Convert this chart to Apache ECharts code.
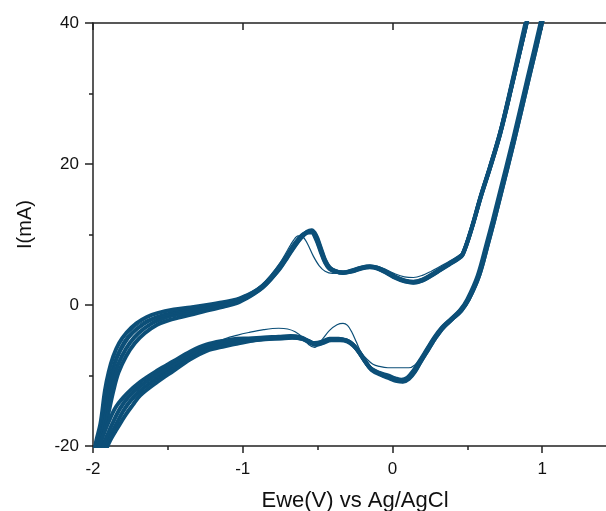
<!DOCTYPE html>
<html>
<head>
<meta charset="utf-8">
<script src="https://cdn.jsdelivr.net/npm/echarts@6/dist/echarts.min.js"></script>
<style>html,body{margin:0;padding:0;background:#fff;overflow:hidden}#c{width:606px;height:511px}</style>
</head>
<body>
<div id="c"></div>
<script>
// Tick labels
var xTicks = [-2, -1, 0, 1];
var yTicks = [-20, 0, 20, 40];

// Cycle A (bundle, upper/left edge)
var cycleA = [
[-2.00,-24],[-1.985,-20],[-1.95,-16.8],[-1.92,-12.1],[-1.895,-9.5],[-1.865,-7.3],[-1.825,-5.4],[-1.775,-3.9],[-1.71,-2.6],[-1.64,-1.7],[-1.57,-1.15],[-1.46,-0.65],[-1.35,-0.35],[-1.24,0.0],[-1.13,0.4],[-1.04,0.8],[-0.98,1.3],[-0.93,1.8],[-0.87,2.7],[-0.81,4.0],[-0.75,5.6],[-0.70,7.2],[-0.65,8.8],[-0.61,9.8],[-0.57,10.3],[-0.54,10.3],[-0.51,9.3],[-0.48,7.6],[-0.45,6.0],[-0.42,5.1],[-0.38,4.7],[-0.33,4.6],[-0.27,4.9],[-0.21,5.3],[-0.15,5.5],[-0.10,5.3],[-0.04,4.7],[0.02,4.0],[0.08,3.5],[0.14,3.3],[0.20,3.6],[0.26,4.3],[0.32,5.1],[0.38,5.9],[0.44,6.7],[0.47,7.3],[0.53,11.0],[0.59,15.5],[0.65,19.5],[0.72,24.5],[0.80,31.5],[0.90,40.5],[1.10,58],
[1.20,60],[1.00,41],[0.90,32],[0.80,23],[0.72,16.2],[0.67,12],[0.63,8.8],[0.57,4.2],[0.50,0.8],[0.45,-0.8],[0.39,-2.0],[0.33,-3.2],[0.28,-4.6],[0.23,-6.3],[0.18,-8.0],[0.14,-9.3],[0.10,-10.3],[0.06,-10.6],[0.02,-10.4],[-0.03,-10.0],[-0.09,-9.6],[-0.15,-8.9],[-0.19,-7.8],[-0.23,-6.5],[-0.27,-5.5],[-0.31,-5.0],[-0.36,-4.8],[-0.42,-4.8],[-0.47,-5.2],[-0.52,-5.4],[-0.56,-5.1],[-0.61,-4.6],[-0.68,-4.4],[-0.76,-4.5],[-0.86,-4.6],[-0.96,-4.75],[-1.04,-4.8],[-1.12,-5.05],[-1.24,-5.6],[-1.35,-6.6],[-1.46,-7.95],[-1.57,-9.3],[-1.684,-10.9],[-1.77,-12.5],[-1.845,-14.4],[-1.90,-16.8],[-1.935,-18.7],[-1.955,-20],[-2.00,-24]
];

// Cycle C (bundle, 1/3 across)
var cycleC = [
[-2.00,-25],[-1.977,-20],[-1.938,-16.8],[-1.901,-12.1],[-1.873,-9.55],[-1.837,-7.3],[-1.79,-5.4],[-1.735,-3.93],[-1.664,-2.7],[-1.593,-1.9],[-1.52,-1.4],[-1.43,-0.95],[-1.35,-0.7],[-1.24,-0.27],[-1.13,0.18],[-1.04,0.62],[-0.98,1.2],[-0.93,1.75],[-0.87,2.6],[-0.81,3.9],[-0.75,5.45],[-0.70,7.05],[-0.65,8.65],[-0.61,9.7],[-0.57,10.3],[-0.54,10.4],[-0.51,9.5],[-0.48,7.8],[-0.45,6.15],[-0.42,5.2],[-0.38,4.75],[-0.33,4.6],[-0.27,4.85],[-0.21,5.25],[-0.15,5.45],[-0.10,5.25],[-0.04,4.65],[0.02,3.95],[0.08,3.45],[0.14,3.25],[0.20,3.55],[0.26,4.25],[0.32,5.05],[0.38,5.85],[0.44,6.65],[0.47,7.25],[0.53,10.95],[0.59,15.4],[0.65,19.4],[0.72,24.4],[0.80,31.4],[0.90,40.4],[1.10,58],
[1.205,60],[1.005,41],[0.905,32],[0.805,23],[0.725,16.2],[0.675,12],[0.635,8.8],[0.575,4.2],[0.505,0.8],[0.455,-0.8],[0.395,-2.0],[0.335,-3.2],[0.285,-4.6],[0.235,-6.3],[0.185,-8.0],[0.145,-9.35],[0.105,-10.35],[0.065,-10.7],[0.025,-10.55],[-0.025,-10.15],[-0.085,-9.7],[-0.145,-9.0],[-0.185,-7.9],[-0.225,-6.6],[-0.265,-5.6],[-0.305,-5.05],[-0.355,-4.85],[-0.415,-4.85],[-0.465,-5.25],[-0.515,-5.5],[-0.555,-5.2],[-0.605,-4.7],[-0.675,-4.5],[-0.755,-4.6],[-0.855,-4.7],[-0.955,-4.9],[-1.04,-5.0],[-1.12,-5.3],[-1.24,-5.9],[-1.35,-7.0],[-1.46,-8.4],[-1.57,-9.8],[-1.684,-11.5],[-1.765,-13.1],[-1.82,-14.7],[-1.87,-16.8],[-1.905,-18.5],[-1.94,-20.2],[-2.00,-24]
];

// Cycle D (bundle, 2/3 across)
var cycleD = [
[-2.00,-26],[-1.968,-20],[-1.925,-16.8],[-1.882,-12.1],[-1.852,-9.57],[-1.808,-7.3],[-1.755,-5.4],[-1.695,-3.97],[-1.618,-2.75],[-1.55,-2.05],[-1.47,-1.5],[-1.35,-1.05],[-1.24,-0.53],[-1.13,0.0],[-1.04,0.45],[-0.98,1.05],[-0.93,1.6],[-0.87,2.5],[-0.81,3.75],[-0.75,5.3],[-0.70,6.9],[-0.65,8.5],[-0.61,9.6],[-0.57,10.4],[-0.54,10.6],[-0.51,9.9],[-0.48,8.2],[-0.45,6.4],[-0.42,5.35],[-0.38,4.8],[-0.33,4.55],[-0.27,4.75],[-0.21,5.15],[-0.15,5.35],[-0.10,5.15],[-0.04,4.55],[0.02,3.85],[0.08,3.35],[0.14,3.15],[0.20,3.45],[0.26,4.15],[0.32,4.95],[0.38,5.75],[0.44,6.55],[0.47,7.15],[0.53,10.85],[0.59,15.3],[0.65,19.3],[0.72,24.3],[0.80,31.3],[0.90,40.3],[1.10,58],
[1.21,60],[1.01,41],[0.91,32],[0.81,23],[0.73,16.2],[0.68,12],[0.64,8.8],[0.58,4.2],[0.51,0.8],[0.46,-0.8],[0.40,-2.0],[0.34,-3.2],[0.29,-4.6],[0.24,-6.3],[0.19,-8.0],[0.15,-9.5],[0.11,-10.5],[0.07,-10.9],[0.03,-10.8],[-0.02,-10.4],[-0.08,-9.9],[-0.14,-9.2],[-0.18,-8.1],[-0.22,-6.8],[-0.26,-5.8],[-0.30,-5.2],[-0.35,-5.0],[-0.41,-5.0],[-0.46,-5.35],[-0.51,-5.65],[-0.55,-5.35],[-0.60,-4.85],[-0.67,-4.65],[-0.75,-4.75],[-0.85,-4.85],[-0.95,-5.05],[-1.04,-5.25],[-1.12,-5.6],[-1.24,-6.2],[-1.35,-7.35],[-1.46,-8.85],[-1.57,-10.35],[-1.684,-12.15],[-1.75,-13.6],[-1.80,-15.1],[-1.84,-16.7],[-1.875,-18.1],[-1.91,-19.7],[-1.925,-20.5],[-2.00,-25]
];

// Cycle B (bundle, lower/right edge)
var cycleB = [
[-2.00,-27],[-1.96,-20],[-1.913,-16.8],[-1.863,-12.1],[-1.83,-9.6],[-1.78,-7.3],[-1.72,-5.4],[-1.655,-4.0],[-1.572,-2.8],[-1.50,-2.2],[-1.42,-1.75],[-1.35,-1.4],[-1.24,-0.8],[-1.13,-0.25],[-1.04,0.25],[-0.98,0.9],[-0.93,1.5],[-0.87,2.4],[-0.81,3.7],[-0.75,5.2],[-0.70,6.8],[-0.65,8.4],[-0.61,9.5],[-0.57,10.3],[-0.54,10.5],[-0.51,9.7],[-0.48,8.0],[-0.45,6.3],[-0.42,5.3],[-0.38,4.8],[-0.33,4.6],[-0.27,4.8],[-0.21,5.2],[-0.15,5.4],[-0.10,5.2],[-0.04,4.6],[0.02,3.9],[0.08,3.4],[0.14,3.2],[0.20,3.5],[0.26,4.2],[0.32,5.0],[0.38,5.8],[0.44,6.6],[0.47,7.2],[0.53,10.9],[0.59,15.3],[0.65,19.3],[0.72,24.3],[0.80,31.3],[0.90,40.3],[1.10,58],
[1.21,60],[1.01,41],[0.91,32],[0.81,23],[0.73,16.2],[0.68,12],[0.64,8.8],[0.58,4.2],[0.51,0.8],[0.46,-0.8],[0.40,-2.0],[0.34,-3.2],[0.29,-4.6],[0.24,-6.3],[0.19,-8.0],[0.15,-9.4],[0.11,-10.4],[0.07,-10.8],[0.03,-10.7],[-0.02,-10.3],[-0.08,-9.8],[-0.14,-9.1],[-0.18,-8.0],[-0.22,-6.7],[-0.26,-5.7],[-0.30,-5.1],[-0.35,-4.9],[-0.41,-4.9],[-0.46,-5.3],[-0.51,-5.6],[-0.55,-5.3],[-0.60,-4.8],[-0.67,-4.6],[-0.75,-4.7],[-0.85,-4.8],[-0.95,-5.1],[-1.04,-5.5],[-1.12,-5.85],[-1.24,-6.5],[-1.35,-7.7],[-1.46,-9.3],[-1.57,-10.9],[-1.684,-12.8],[-1.735,-14.2],[-1.78,-15.5],[-1.815,-16.7],[-1.85,-17.9],[-1.885,-19.2],[-1.915,-20.6],[-2.00,-25]
];

// Cycle 1 (first cycle, thin line)
var cycleT = [
[-2.00,-25],[-1.975,-20],[-1.935,-16.0],[-1.905,-12.1],[-1.86,-8.0],[-1.82,-6.0],[-1.77,-4.3],[-1.71,-3.0],[-1.64,-2.1],[-1.57,-1.6],[-1.47,-1.1],[-1.38,-0.7],[-1.29,-0.35],[-1.20,0.0],[-1.10,0.5],[-1.04,0.9],[-0.98,1.4],[-0.93,2.0],[-0.87,2.9],[-0.81,4.3],[-0.75,6.0],[-0.70,7.8],[-0.66,9.2],[-0.63,9.8],[-0.60,9.7],[-0.57,8.8],[-0.53,7.0],[-0.49,5.6],[-0.45,4.8],[-0.40,4.5],[-0.33,4.6],[-0.27,5.0],[-0.21,5.4],[-0.15,5.6],[-0.10,5.5],[-0.04,5.0],[0.02,4.4],[0.08,4.0],[0.14,3.9],[0.20,4.2],[0.26,4.8],[0.32,5.5],[0.38,6.2],[0.44,7.0],[0.47,7.5],[0.53,11.4],[0.59,16.0],[0.65,20.1],[0.72,25.3],[0.80,32.6],[0.89,41],[1.10,59],
[1.20,61],[1.00,41.2],[0.90,32.2],[0.80,23.2],[0.72,16.4],[0.67,12.2],[0.63,9.0],[0.57,4.4],[0.50,1.0],[0.45,-0.6],[0.39,-1.8],[0.33,-3.0],[0.28,-4.4],[0.23,-6.0],[0.19,-7.5],[0.15,-8.5],[0.11,-8.9],[0.05,-8.9],[-0.03,-8.9],[-0.09,-8.7],[-0.13,-8.4],[-0.17,-7.7],[-0.21,-6.7],[-0.24,-5.3],[-0.27,-3.9],[-0.30,-2.9],[-0.33,-2.6],[-0.37,-2.8],[-0.42,-3.6],[-0.47,-4.9],[-0.52,-6.0],[-0.56,-5.6],[-0.60,-4.6],[-0.65,-3.8],[-0.70,-3.4],[-0.76,-3.3],[-0.86,-3.5],[-0.96,-3.9],[-1.04,-4.3],[-1.12,-4.8],[-1.20,-5.5],[-1.27,-6.4],[-1.34,-7.4],[-1.42,-8.4],[-1.49,-9.3],[-1.55,-10.1],[-1.61,-11.0],[-1.67,-12.0],[-1.72,-13.0],[-1.76,-14.1],[-1.80,-15.3],[-1.835,-16.6],[-1.865,-17.9],[-1.89,-19.2],[-1.91,-20.4],[-2.00,-25]
];

var lineColor = '#0c4f78';
var axisColor = '#222';
var font = 'Liberation Sans, Arial, sans-serif';

function mk(name, data, w) {
  return {
    name: name, type: 'line', data: data, showSymbol: false, smooth: 0.35,
    smoothMonotone: 'none', clip: true, silent: true, animation: false,
    lineStyle: { color: lineColor, width: w }
  };
}

var chart = echarts.init(document.getElementById('c'), null, { renderer: 'canvas' });
chart.setOption({
  animation: false,
  backgroundColor: '#fff',
  grid: { left: 93, top: 23, width: 524, height: 423, outerBoundsMode: 'none', containLabel: false },
  xAxis: [{
    type: 'value', min: -2, max: 1.5, interval: 1, position: 'bottom',
    name: 'Ewe(V) vs Ag/AgCl', nameLocation: 'middle', nameGap: 44,
    nameTextStyle: { fontFamily: font, fontSize: 22, color: '#111' },
    axisLine: { onZero: false, lineStyle: { color: axisColor, width: 1.5 } },
    axisTick: { show: true, length: 7, lineStyle: { color: axisColor, width: 1.5 } },
    minorTick: { show: true, splitNumber: 2, length: 4, lineStyle: { color: axisColor, width: 1.5 } },
    splitLine: { show: false },
    axisLabel: { fontFamily: font, fontSize: 17, color: '#111', margin: 15,
      formatter: function (v) { return xTicks.indexOf(v) >= 0 ? String(v) : ''; } }
  }, {
    type: 'value', min: -2, max: 1.5, interval: 1, position: 'top',
    axisLine: { onZero: false, lineStyle: { color: axisColor, width: 1.5 } },
    axisTick: { show: true, inside: true, length: 7, lineStyle: { color: axisColor, width: 1.5 } },
    axisLabel: { show: false }, splitLine: { show: false }
  }],
  yAxis: [{
    type: 'value', min: -20, max: 40, interval: 20,
    name: 'I(mA)', nameLocation: 'middle', nameGap: 58,
    nameTextStyle: { fontFamily: font, fontSize: 20, color: '#111', padding: [0, 0, 0, 20] },
    axisLine: { show: true, onZero: false, lineStyle: { color: axisColor, width: 1.5 } },
    axisTick: { show: true, length: 8, lineStyle: { color: axisColor, width: 1.5 } },
    minorTick: { show: true, splitNumber: 2, length: 4, lineStyle: { color: axisColor, width: 1.5 } },
    splitLine: { show: false },
    axisLabel: { fontFamily: font, fontSize: 17, color: '#111', margin: 14,
      formatter: function (v) { return yTicks.indexOf(v) >= 0 ? String(v) : ''; } }
  }],
  series: [
    mk('cycle B', cycleB, 4),
    mk('cycle D', cycleD, 4),
    mk('cycle C', cycleC, 4),
    mk('cycle A', cycleA, 4),
    mk('cycle 1', cycleT, 1.2)
  ]
});
</script>
</body>
</html>
